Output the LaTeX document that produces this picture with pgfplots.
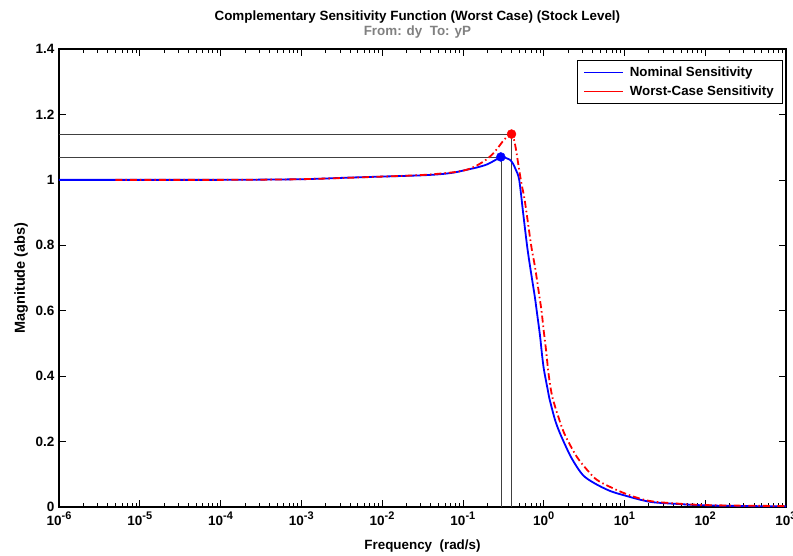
\documentclass[border=0pt]{standalone}
\usepackage{fontspec}
\setmainfont{Liberation Sans}
\usepackage{pgfplots}
\pgfplotsset{compat=1.18}
\definecolor{mblue}{RGB}{0,0,255}
\definecolor{mred}{RGB}{255,0,0}
\newcommand{\tp}[1]{10\raisebox{5.5pt}{\fontsize{11}{11}\selectfont #1}}
\begin{document}
\begin{tikzpicture}
\begin{axis}[
 name=ax,
 scale only axis, width=727pt, height=458pt,
 xmode=log, log basis x=10,
 xmin=1e-6, xmax=1e3, ymin=0, ymax=1.4,
 axis line style={line width=1.1pt},
 xtick={1e-6,1e-5,1e-4,1e-3,1e-2,1e-1,1,1e1,1e2,1e3},
 xticklabels={\tp{-6},\tp{-5},\tp{-4},\tp{-3},\tp{-2},\tp{-1},\tp{0},\tp{1},\tp{2},\tp{3}},
 minor xtick={2e-6,3e-6,4e-6,5e-6,6e-6,7e-6,8e-6,9e-6,
  2e-5,3e-5,4e-5,5e-5,6e-5,7e-5,8e-5,9e-5,
  2e-4,3e-4,4e-4,5e-4,6e-4,7e-4,8e-4,9e-4,
  2e-3,3e-3,4e-3,5e-3,6e-3,7e-3,8e-3,9e-3,
  2e-2,3e-2,4e-2,5e-2,6e-2,7e-2,8e-2,9e-2,
  0.2,0.3,0.4,0.5,0.6,0.7,0.8,0.9,
  2,3,4,5,6,7,8,9,
  20,30,40,50,60,70,80,90,
  200,300,400,500,600,700,800,900},
 ytick={0,0.2,0.4,0.6,0.8,1,1.2,1.4},
 yticklabels={0,0.2,0.4,0.6,0.8,1,1.2,1.4},
 tick align=inside, xtick pos=both, ytick pos=both,
 xticklabel pos=bottom, yticklabel pos=left,
 major tick length=7pt, minor tick length=4pt,
 tick style={black, line width=0.6pt},
 tick label style={font=\fontsize{13.5}{15}\selectfont\bfseries},
 x tick label style={anchor=base, yshift=-18pt},
 y tick label style={xshift=-1pt},
 clip=false,
 legend style={at={(0.996,0.976)}, anchor=north east, draw=black, line width=0.8pt,
   font=\fontsize{13.3}{15}\selectfont\bfseries, inner xsep=7pt, inner ysep=4.5pt,
   row sep=4pt, column sep=4pt, fill=white},
 legend cell align=left,
 legend image code/.code={\draw (0pt,0pt) -- (39pt,0pt);},
]
% reference lines
\addplot[forget plot, black!75, line width=0.5pt] coordinates {(1e-6,1.07) (0.295,1.07) (0.295,0)};
\addplot[forget plot, black!75, line width=0.5pt] coordinates {(1e-6,1.14) (0.40,1.14) (0.40,0)};

% nominal
\addplot[forget plot, mblue, line width=1.8pt, smooth] coordinates {
(1e-6,1.000) (1e-5,1.000) (1e-4,1.000) (1e-3,1.002) (4e-3,1.007) (0.01,1.010)
(0.032,1.014) (0.056,1.018) (0.08,1.023) (0.112,1.031) (0.15,1.038) (0.198,1.047)
(0.25,1.060) (0.295,1.070) (0.34,1.067) (0.38,1.062) (0.416,1.050) (0.45,1.032)
(0.498,1.000) (0.557,0.899) (0.625,0.796) (0.689,0.725) (0.778,0.642) (0.82,0.600)
(0.90,0.525) (0.95,0.470) (1.0,0.425) (1.07,0.385) (1.13,0.355) (1.19,0.327)
(1.4,0.262) (1.66,0.215) (2.21,0.150) (3.05,0.098) (4.3,0.072) (6.5,0.050)
(9.5,0.037) (20.6,0.016) (48,0.009) (100,0.005) (300,0.003) (1000,0.002)
};

% worst case
\addplot[forget plot, mred, line width=1.8pt, smooth, dash pattern=on 7pt off 3pt on 1.5pt off 3pt] coordinates {
(5e-6,1.000) (1e-4,1.000) (1e-3,1.002) (0.01,1.010) (0.032,1.015) (0.075,1.023)
(0.112,1.031) (0.149,1.044) (0.2,1.064) (0.25,1.087) (0.315,1.119) (0.36,1.134)
(0.40,1.140) (0.43,1.122) (0.455,1.092) (0.483,1.051) (0.53,0.990) (0.585,0.935)
(0.70,0.800) (0.78,0.735) (0.86,0.665) (0.94,0.600) (1.0,0.540) (1.07,0.480)
(1.14,0.415) (1.216,0.365) (1.3,0.330) (1.5,0.280) (1.8,0.225) (2.55,0.155)
(3.73,0.104) (4.9,0.078) (10,0.042) (20,0.019) (48,0.010) (100,0.006)
(300,0.004) (1000,0.003)
};

% peak markers
\addplot[forget plot, only marks, mark=*, mark size=4.5pt, mblue] coordinates {(0.295,1.070)};
\addplot[forget plot, only marks, mark=*, mark size=4.5pt, mred] coordinates {(0.40,1.140)};

% legend entries (after all plots)
\addlegendimage{draw=mblue, line width=0.9pt}
\addlegendentry{Nominal Sensitivity}
\addlegendimage{draw=mred, line width=0.9pt}
\addlegendentry{Worst-Case Sensitivity}

% titles and labels
\node[anchor=base, font=\fontsize{13.4}{15}\selectfont\bfseries] at ([yshift=28pt]rel axis cs:0.493,1) {Complementary Sensitivity Function (Worst Case) (Stock Level)};
\node[anchor=base, font=\fontsize{13.4}{15}\selectfont\bfseries, text=black!50] at ([yshift=13pt]rel axis cs:0.493,1) {From: dy\ \ To: yP};
\node[anchor=base, font=\fontsize{13.4}{15}\selectfont\bfseries] at ([yshift=-42pt]rel axis cs:0.5,0) {Frequency\ \ (rad/s)};
\node[anchor=base, rotate=90, font=\fontsize{14.5}{16}\selectfont\bfseries] at ([xshift=-34pt]rel axis cs:0,0.5) {Magnitude (abs)};
\end{axis}
\pgfresetboundingbox
\path[use as bounding box] ([xshift=-59pt,yshift=-48pt]ax.south west) rectangle ([xshift=7pt,yshift=49pt]ax.north east);
\end{tikzpicture}
\end{document}
